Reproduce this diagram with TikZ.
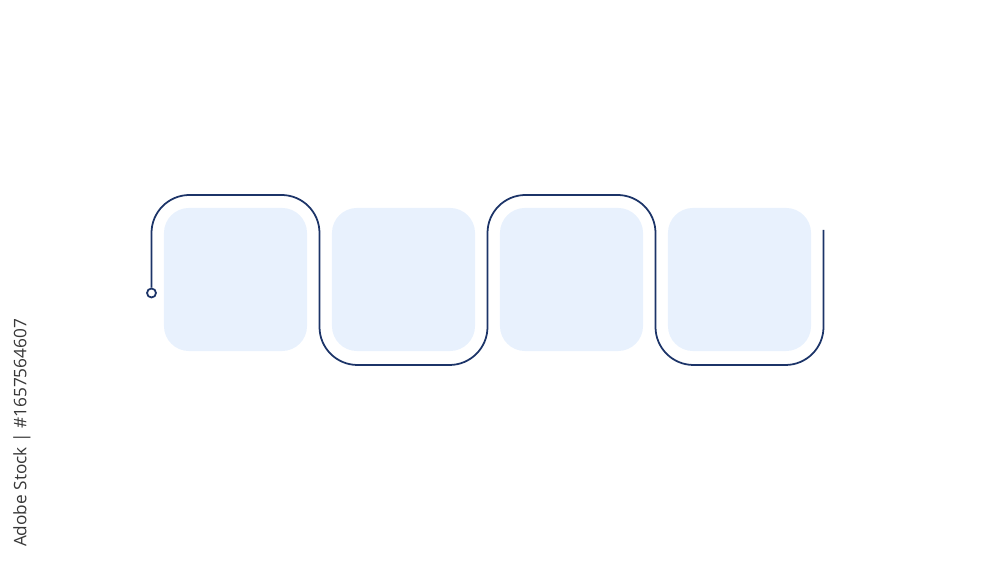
\documentclass[tikz,border=0pt]{standalone}
\usepackage{fontspec}
\setmainfont{Open Sans}
\definecolor{navy}{RGB}{28,52,104}
\definecolor{paleblue}{RGB}{232,241,253}
\definecolor{stockgray}{RGB}{55,55,55}
\tikzset{
  tile/.style={rectangle, rounded corners=0.25cm, fill=paleblue, minimum size=1.43cm, inner sep=0pt},
  wire/.style={draw=navy, line width=0.5pt, rounded corners=0.38cm}
}
\begin{document}
\begin{tikzpicture}[x=0.01cm, y=-0.01cm]
      \useasboundingbox (0,0) rectangle (1000,562);

      \node[tile](T1) at (235.5,279.5){};
      \node[tile](T2) at (403.5,279.5){};
      \node[tile](T3) at (571.5,279.5){};
      \node[tile](T4) at (739.5,279.5){};

      \node[circle, draw=navy, fill=white, line width=0.5pt, minimum size=0.09cm, inner sep=0pt](S) at (151.5,293){};
      \coordinate (E) at (823.5,230);

      \draw[wire] (S.north) -- (151.5,195) -- (319.5,195) -- (319.5,365)
                  -- (487.5,365) -- (487.5,195) -- (655.5,195) -- (655.5,365)
                  -- (823.5,365) -- (E);

      \node[rotate=90, text=stockgray, font=\fontsize{4.9pt}{6pt}\selectfont, inner sep=0pt](W) at (22,433){Adobe Stock | \#1657564607};
\end{tikzpicture}
\end{document}
